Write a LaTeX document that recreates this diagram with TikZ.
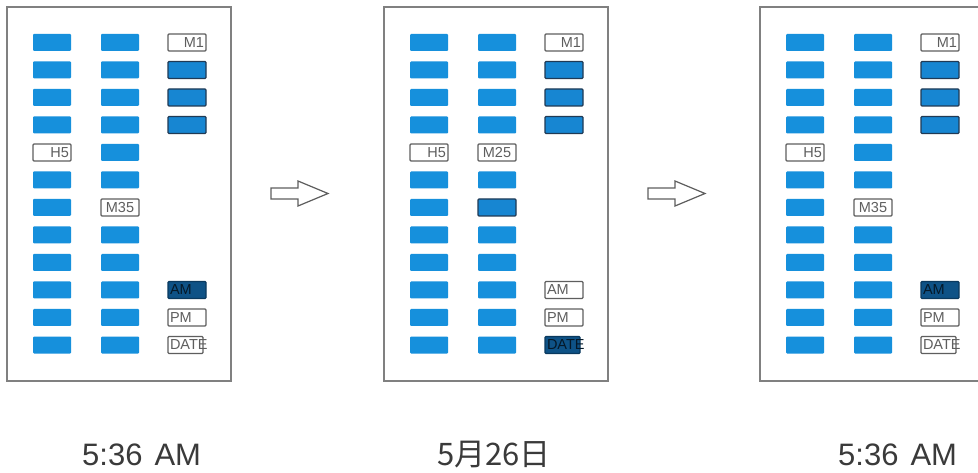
\documentclass[tikz,border=0pt]{standalone}
\usepackage{fontspec}
\setmainfont{Liberation Sans}
\newfontfamily\cjk{Noto Sans CJK SC}
\definecolor{blu}{HTML}{1690DC}
\definecolor{blu2}{HTML}{1786D2}
\definecolor{edge}{HTML}{203A55}
\definecolor{navy}{HTML}{0E5286}
\definecolor{lab}{HTML}{5E5E5E}
\definecolor{frm}{HTML}{808080}
\definecolor{txt}{HTML}{3A3A3A}
\newcommand\labfont{\fontsize{14.5}{14.5}\selectfont}
\newcommand\bigfont{\fontsize{31}{31}\selectfont}
\tikzset{
  frame/.style={draw=frm, line width=1.6pt, fill=white, minimum width=224pt, minimum height=374pt, inner sep=0pt},
  bluebox/.style={fill=blu, draw=none, minimum width=38pt, minimum height=17pt, inner sep=0pt, rounded corners=1pt},
  darkbox/.style={bluebox, fill=blu2, draw=edge, line width=1.3pt},
  labbox/.style={bluebox, fill=white, draw=lab, line width=1.2pt, text=lab, font=\labfont, align=right, text width=34pt},
  labl/.style={labbox, align=left},
  labc/.style={labbox, align=center},
  selbox/.style={labl, fill=navy, draw=navy!70!black, text=black!70!navy},
  datebox/.style={labbox, align=left, text width=31pt, minimum width=35pt},
  seldate/.style={datebox, fill=navy, draw=navy!70!black, text=black!70!navy},
  hollow/.style={draw=lab, line width=1.2pt, fill=white, line join=miter},
  lbl/.style={font=\bigfont, text=txt, inner sep=0pt}
}
\begin{document}
\begin{tikzpicture}[x=1pt,y=-1pt]
\useasboundingbox (0,0) rectangle (978,473);
\clip (0,0) rectangle (978,473);
\fill[white] (0,0) rectangle (978,473);
% frames
\node[frame] (PA) at (119,194) {};
\node[frame] (PB) at (496,194) {};
\node[frame] (PC) at (872,194) {};
% ---------- panel A ----------
\foreach \r in {0,...,11}{
  \pgfmathsetmacro\yy{42.5+27.5*\r}
  \ifnum\r=4 \else \node[bluebox] (A1-\r) at (52,\yy) {};\fi
  \ifnum\r=6 \else \node[bluebox] (A2-\r) at (120,\yy) {};\fi
}
\node[labbox] (A1-4) at (52,152.5) {H5};
\node[labc] (A2-6) at (120,207.5) {M35};
\node[labbox] (A3-0) at (187,42.5) {M1};
\foreach \r in {1,2,3}{\pgfmathsetmacro\yy{42.5+27.5*\r}\node[darkbox] (A3-\r) at (187,\yy) {};}
\node[selbox] (A3-9) at (187,290) {AM};
\node[labl] (A3-10) at (187,317.5) {PM};
\node[datebox] (A3-11) at (185.5,345) {DATE};
% ---------- panel B ----------
\foreach \r in {0,...,11}{
  \pgfmathsetmacro\yy{42.5+27.5*\r}
  \ifnum\r=4 \else \node[bluebox] (B1-\r) at (429,\yy) {};\fi
  \ifnum\r=4 \else\ifnum\r=6 \else \node[bluebox] (B2-\r) at (497,\yy) {};\fi\fi
}
\node[labbox] (B1-4) at (429,152.5) {H5};
\node[labc] (B2-4) at (497,152.5) {M25};
\node[darkbox] (B2-6) at (497,207.5) {};
\node[labbox] (B3-0) at (564,42.5) {M1};
\foreach \r in {1,2,3}{\pgfmathsetmacro\yy{42.5+27.5*\r}\node[darkbox] (B3-\r) at (564,\yy) {};}
\node[labl] (B3-9) at (564,290) {AM};
\node[labl] (B3-10) at (564,317.5) {PM};
\node[seldate] (B3-11) at (562.5,345) {DATE};
% ---------- panel C ----------
\foreach \r in {0,...,11}{
  \pgfmathsetmacro\yy{42.5+27.5*\r}
  \ifnum\r=4 \else \node[bluebox] (C1-\r) at (805,\yy) {};\fi
  \ifnum\r=6 \else \node[bluebox] (C2-\r) at (873,\yy) {};\fi
}
\node[labbox] (C1-4) at (805,152.5) {H5};
\node[labc] (C2-6) at (873,207.5) {M35};
\node[labbox] (C3-0) at (940,42.5) {M1};
\foreach \r in {1,2,3}{\pgfmathsetmacro\yy{42.5+27.5*\r}\node[darkbox] (C3-\r) at (940,\yy) {};}
\node[selbox] (C3-9) at (940,290) {AM};
\node[labl] (C3-10) at (940,317.5) {PM};
\node[datebox] (C3-11) at (938.5,345) {DATE};
% ---------- hollow arrows ----------
\draw[hollow] (271,188) -- (298,188) -- (298,181) -- (328,193.5) -- (298,206) -- (298,199) -- (271,199) -- cycle;
\draw[hollow] (648,188) -- (675,188) -- (675,181) -- (705,193.5) -- (675,206) -- (675,199) -- (648,199) -- cycle;
% ---------- captions ----------
\node[lbl, anchor=base west] (tA) at (82,465) {5:36\hspace{12pt}AM};
\node[lbl, anchor=base west] (tB) at (437,465) {\cjk 5月26日};
\node[lbl, anchor=base west] (tC) at (838,465) {5:36\hspace{12pt}AM};
\end{tikzpicture}
\end{document}
